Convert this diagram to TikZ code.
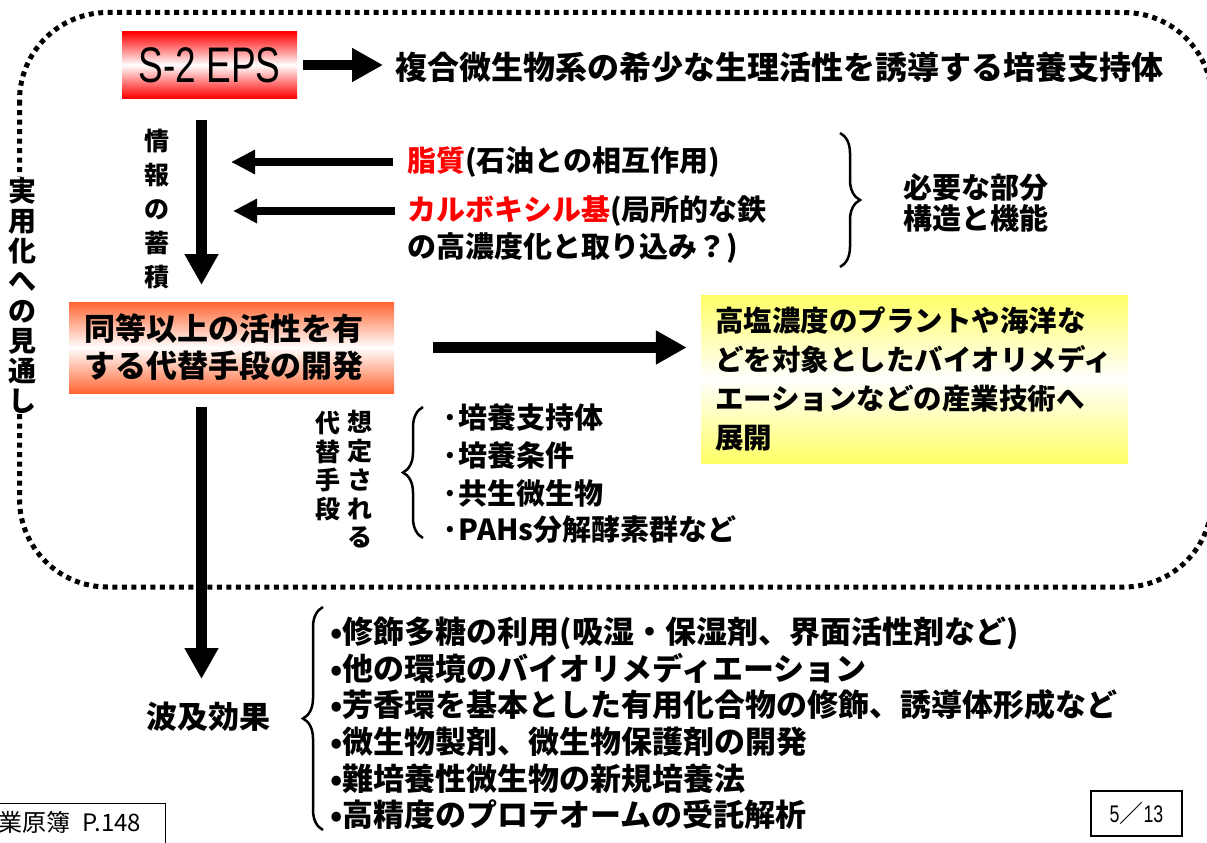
\documentclass[tikz,border=0pt]{standalone}
\usepackage{fontspec}
\setmainfont{Noto Sans CJK JP}
\newfontfamily\narrowjp[FakeStretch=0.8]{Noto Sans CJK JP}
\newfontfamily\narrowlat[FakeStretch=0.74]{Liberation Sans}
\usetikzlibrary{arrows.meta,decorations.pathreplacing}
\definecolor{boxred}{RGB}{255,0,0}
\definecolor{boxorange}{RGB}{255,102,51}
\definecolor{boxyellow}{RGB}{255,255,102}
\definecolor{txtred}{RGB}{255,0,0}
\tikzset{
  fz/.style 2 args={font=\fontsize{#1}{#2}\selectfont\bfseries},
  fzr/.style 2 args={font=\fontsize{#1}{#2}\selectfont},
  dotline/.style={line width=5pt, dash pattern=on 5pt off 4.5pt, rounded corners=88pt},
  fatarrow/.style={line width=10.5pt, -{Triangle[length=31pt,width=32pt]}},
  thinarrow/.style={line width=8pt, -{Triangle[length=24pt,width=23pt]}},
  bracestyle/.style={line width=2.5pt, decorate, decoration={brace, amplitude=20pt}},
  txt/.style={inner sep=0pt, anchor=west},
  vstack/.style={inner sep=1pt, align=center},
  gradbox/.style={inner sep=0pt, shading=axis, top color=#1, bottom color=#1, middle color=white},
  thinbox/.style={draw, line width=1.2pt}
}
\begin{document}
\begin{tikzpicture}[x=1pt,y=-1pt]
\useasboundingbox (0,0) rectangle (1207,843);
\clip (0,0) rectangle (1207,843);

% dotted boundary
\draw[dotline] (19.5,12.5) rectangle (1212,587);
\node[vstack, fill=white, fz={28}{30}] (vis) at (22.5,295.5) {実\\用\\化\\へ\\の\\見\\通\\し};

% S-2 EPS
\node[gradbox=boxred, minimum width=175pt, minimum height=66pt,
      font=\narrowlat\fontsize{50}{50}\selectfont] (s2) at (209.5,65) {S-2 EPS};
\node[txt, fz={32}{32}] (title) at (395,67) {複合微生物系の希少な生理活性を誘導する培養支持体};
\draw[fatarrow, shorten <=6pt, shorten >=12pt] (s2.east) -- (s2.east -| title.west);

% info accumulation arrow
\coordinate (d1s) at (201.5,120);
\coordinate (d1e) at (201.5,285);
\draw[fatarrow] (d1s) -- (d1e);
\node[vstack, fz={25}{34}] (info) at (157,209) {情\\報\\の\\蓄\\積};

% lipid / carboxyl
\node[txt, fz={29}{29}] (lipid) at (407,162) {\textcolor{txtred}{脂質}(石油との相互作用)};
\coordinate (l1e) at (231,162);
\draw[thinarrow, shorten <=14pt] (lipid.west) -- (lipid.west -| l1e);
\node[txt, fz={29}{29}] (carb) at (407,211) {\textcolor{txtred}{カルボキシル基}(局所的な鉄};
\node[txt, fz={29}{29}] (carb2) at (407,248) {の高濃度化と取り込み？)};
\coordinate (l2e) at (233,211);
\draw[thinarrow, shorten <=12pt] (carb.west) -- (carb.west -| l2e);

\draw[bracestyle] (840,133) -- (840,267);
\node[align=center, fz={29}{31}] (need) at (976,203) {必要な部分\\構造と機能};

% alternative means box
\node[gradbox=boxorange, minimum width=325pt, minimum height=91pt, text width=295pt,
      align=left, fz={31}{37}] (alt) at (231.5,347.5) {同等以上の活性を有\\する代替手段の開発};

% yellow box
\node[gradbox=boxyellow, minimum width=427pt, minimum height=168pt, text width=399pt,
      align=left, fz={28.5}{39}] (ybox) at (914.5,379)
  {高塩濃度のプラントや海洋な\\どを対象としたバイオリメディ\\エーションなどの産業技術へ\\展開};
\draw[fatarrow, shorten <=39pt, shorten >=14pt] (alt.east) -- (alt.east -| ybox.west);

% down arrow 2
\coordinate (d2s) at (201.5,407);
\coordinate (d2e) at (201.5,679);
\draw[fatarrow] (d2s) -- (d2e);

% assumed alternatives
\node[vstack, fz={25}{28.75}] (assumed) at (360,479.5) {想\\定\\さ\\れ\\る};
\node[vstack, fz={25}{28.75}] (altmeans) at (328,466) {代\\替\\手\\段};
\draw[bracestyle] (423,538) -- (423,407);
\node[txt, fz={29}{29}] (it1) at (441,417) {·培養支持体};
\node[txt, fz={29}{29}] (it2) at (441,455) {·培養条件};
\node[txt, fz={29}{29}] (it3) at (441,493) {·共生微生物};
\node[txt, fz={29}{29}] (it4) at (441,530) {·PAHs分解酵素群など};

% ripple effects
\node[fz={31}{31}] (ripple) at (208.5,717) {波及効果};
\draw[bracestyle] (323,830) -- (323,607);
\node[txt, align=left, fz={31}{36.6}] (effects) at (330,723.5)
  {•修飾多糖の利用(吸湿・保湿剤、界面活性剤など)\\
   •他の環境のバイオリメディエーション\\
   •芳香環を基本とした有用化合物の修飾、誘導体形成など\\
   •微生物製剤、微生物保護剤の開発\\
   •難培養性微生物の新規培養法\\
   •高精度のプロテオームの受託解析};

% page number
\node[thinbox, minimum width=91pt, minimum height=45pt, inner sep=0pt,
      font=\fontsize{24}{24}\selectfont] (page) at (1136.5,813.5) {{\narrowlat 5}／{\narrowlat 13}};

% source box
\node[thinbox, anchor=north east, minimum width=190pt, minimum height=60pt] (srcbox) at (166,803) {};
\node[txt, fzr={24}{24}] (src) at (-2,822) {業原簿\hspace{12pt}P.148};
\end{tikzpicture}
\end{document}
